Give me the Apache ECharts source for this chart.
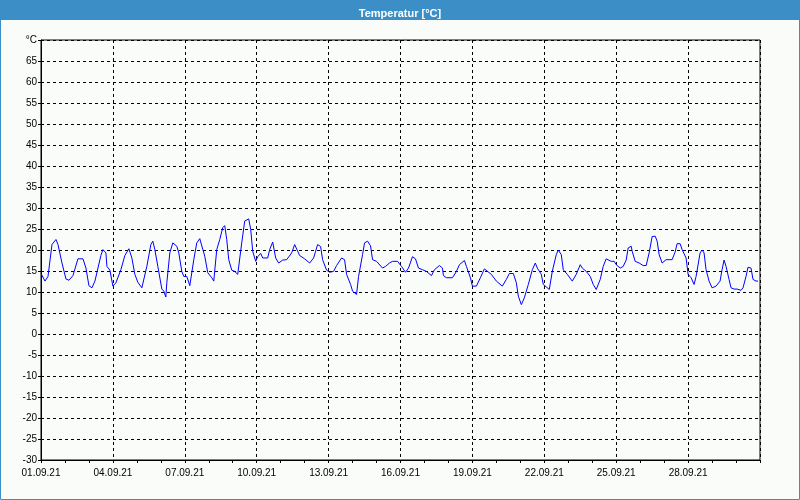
<!DOCTYPE html>
<html><head><meta charset="utf-8">
<script src="https://cdn.jsdelivr.net/npm/echarts@6/dist/echarts.min.js"></script>
<style>html,body{margin:0;padding:0;background:#fafcfa}#c{width:800px;height:500px}</style>
</head><body><div id="c"></div>
<script>
// hours since 01.09.21 00:00
const hours = [0,4,7,11,15,17,21,25,28,32,37,39,42,45,48,51,54,60,62,65,66,69,72,75,80,84,88,91,94,97,101,106,110,112,114,117,121,123,125,126,129,132,136,138,141,143,146,149,153,156,159,161,164,167,171,
173,176,179,182,184,186,188,191,194,197,201,204,208,210,212,215,217,220,222,227,229,232,235,238,242,246,251,254,256,259,264,266,269,273,275,277,280,282,286,289,293,296,301,304,306,310,312,316,318,322,324,327,330,332,336,338,342,345,349,352,
357,361,365,368,372,375,378,382,386,391,394,399,402,403,406,412,416,419,424,426,430,432,436,440,444,446,451,456,462,466,469,473,476,478,481,484,488,492,495,497,501,503,506,509,512,516,518,521,523,527,532,
536,540,542,546,550,553,556,560,563,566,568,571,574,576,580,583,586,588,591,592,595,599,603,606,609,612,615,617,619,622,626,629,632,635,637,640,642,646,648,651,654,656,660,662,664,666,669,672,676,680,682,684,686,689,691,694,697,701,703,706,708,711,713,716,718];
const temps = [14.4,12.6,13.7,21.3,22.5,21.3,16.9,13.1,12.8,13.9,17.9,18.2,17.9,15.7,11.5,11.0,12.6,18.7,20.1,19.3,16.1,15.2,11.4,12.2,15.3,18.7,20.3,18.1,14.2,12.3,11.0,16.1,21.3,22.1,20.1,16.1,10.7,10.2,8.8,12.2,19.3,21.7,20.9,19.3,14.9,13.7,13.7,11.5,17.7,21.7,22.7,22.6,18.5,14.6,13.4,
12.6,20.1,22.5,25.3,25.8,22.5,17.7,15.2,14.9,14.2,21.7,26.9,27.4,24.9,19.7,17.3,18.4,19.2,18.1,18.1,20.1,21.9,18.1,16.9,17.6,17.7,19.3,21.3,21.0,18.7,17.9,17.8,16.9,18.1,19.7,21.3,20.8,17.7,15.2,14.7,14.9,16.3,18.1,17.7,14.2,11.8,10.2,9.4,13.7,18.9,21.7,22.1,21.0,17.7,17.3,17.3,15.7,16.1,16.9,17.3,
17.3,16.1,14.7,15.7,18.4,17.9,15.7,15.3,14.9,13.9,15.3,16.3,15.7,13.9,13.4,13.4,14.9,16.5,17.5,16.1,13.4,11.4,11.4,13.4,15.5,15.3,14.2,12.6,11.4,13.0,14.4,14.4,12.2,9.0,7.0,8.6,11.8,15.3,16.9,15.7,14.2,11.8,11.2,10.6,14.9,18.9,20.0,18.9,15.3,14.2,12.6,
14.2,16.5,15.7,14.9,13.7,11.8,10.6,13.0,16.1,17.9,18.1,17.3,17.3,16.5,15.7,16.1,17.6,20.5,20.9,19.7,17.3,16.9,16.3,16.3,19.3,23.2,23.3,22.1,18.9,16.9,17.7,17.7,17.7,19.5,21.5,21.5,20.1,18.1,14.2,13.4,11.8,13.7,19.3,20.0,19.3,15.3,12.6,11.0,11.4,12.6,15.3,17.6,16.1,13.0,11.0,10.7,10.7,10.4,11.0,13.7,15.9,15.7,13.0,12.6,12.6];
const xTickLabels = ['01.09.21','04.09.21','07.09.21','10.09.21','13.09.21','16.09.21','19.09.21','22.09.21','25.09.21','28.09.21'];
const yUnitLabel = '°C';
const chartTitle = 'Temperatur [°C]';

const chart = echarts.init(document.getElementById('c'), null, {renderer: 'canvas'});
const font = 'Liberation Sans, Arial, sans-serif';
chart.setOption({
  backgroundColor: '#fafcfa',
  animation: false,
  graphic: [
    {type: 'rect', shape: {x: 0, y: 0, width: 800, height: 20}, style: {fill: '#3c8fc6'}, z: -1, silent: true},
    {type: 'rect', shape: {x: 0.5, y: 0.5, width: 799, height: 499}, style: {fill: 'none', stroke: '#3c8fc6', lineWidth: 1}, z: -1, silent: true}
  ],
  title: {
    text: chartTitle, left: 'center', top: 3,
    textStyle: {color: '#fff', fontWeight: 'bold', fontSize: 11, fontFamily: font}
  },
  grid: {left: 41, right: 40, top: 40, bottom: 40, show: true, borderColor: '#000', borderWidth: 1, backgroundColor: 'transparent'},
  xAxis: {
    type: 'value', min: 0, max: 720, interval: 72,
    axisLine: {onZero: false, lineStyle: {color: '#000'}},
    axisTick: {show: true, length: 3, lineStyle: {color: '#000'}},
    minorTick: {show: true, splitNumber: 3, length: 3, lineStyle: {color: '#000'}},
    axisLabel: {color: '#000', fontSize: 10, fontFamily: font, margin: 8,
      formatter: v => { const i = Math.round(v / 72); return i < xTickLabels.length ? xTickLabels[i] : ''; }},
    splitLine: {show: true, lineStyle: {color: '#000', type: [3, 3], width: 1}}
  },
  yAxis: {
    type: 'value', min: -30, max: 70, interval: 5,
    axisLine: {show: true, onZero: false, lineStyle: {color: '#000'}},
    axisTick: {show: true, length: 3, lineStyle: {color: '#000'}},
    axisLabel: {color: '#000', fontSize: 10, fontFamily: font, margin: 4,
      formatter: v => v === 70 ? yUnitLabel : String(v)},
    splitLine: {show: true, lineStyle: {color: '#000', type: [3, 3], width: 1}}
  },
  series: [{
    type: 'line', data: hours.map((h, i) => [h, temps[i]]),
    showSymbol: false, symbol: 'none',
    lineStyle: {color: '#0000ff', width: 1}
  }]
});
</script></body></html>
